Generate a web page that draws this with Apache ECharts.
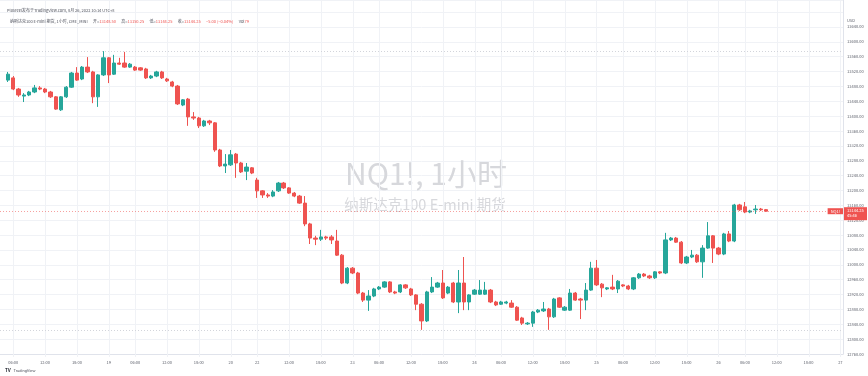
<!DOCTYPE html>
<html><head><meta charset="utf-8">
<script src="https://cdn.jsdelivr.net/npm/echarts@6/dist/echarts.min.js"></script>
<style>html,body{margin:0;padding:0;background:#fff}#c{width:868px;height:376px}</style>
</head><body><div id="c"></div>
<script>
// ---- data (NQ1! 1h, 18 Aug 04:00 -> 26 Aug 10:00, UTC+8) ----
const openP = [13497,13503,13473,13454,13457,13465,13476,13473,13465,13452,
 13417,13452,13478,13516,13500,13532,13519,13452,13511,13557,
 13513,13543,13543,13532,13532,13530,13527,13503,13508,13519,
 13500,13492,13481,13430,13446,13398,13395,13374,13387,13382,
 13309,13266,13269,13298,13274,13252,13261,13228,13199,13188,
 13185,13199,13220,13207,13193,13185,13166,13110,13072,13069,
 13075,13075,13064,13026,12951,12991,12978,12924,12905,12916,
 12935,12940,12954,12927,12927,12946,12935,12919,12894,12849,
 12927,12940,12951,12924,12951,12900,12951,12900,12921,12921,
 12921,12932,12900,12894,12897,12897,12886,12857,12841,12843,
 12873,12876,12881,12860,12911,12878,12878,12924,12908,12905,
 12932,12991,12948,12935,12940,12935,12946,12943,12935,12965,
 12975,12970,12965,12981,12978,13067,13072,13061,13005,13021,
 13026,13008,13045,13078,13045,13029,13083,13064,13161,13156,
 13142,13148,13150,13148.5];
const closeP = [13513,13473,13457,13457,13465,13476,13473,13465,13452,13419,
 13452,13478,13516,13497,13532,13519,13452,13511,13557,13511,
 13543,13540,13532,13540,13524,13524,13503,13508,13519,13503,
 13495,13481,13433,13444,13398,13395,13374,13387,13382,13309,
 13266,13271,13296,13274,13250,13263,13247,13199,13188,13185,
 13196,13220,13207,13193,13185,13166,13110,13072,13069,13075,
 13072,13067,13026,12951,12991,12978,12924,12905,12916,12935,
 12940,12954,12927,12924,12946,12938,12919,12894,12849,12927,
 12940,12951,12911,12940,12900,12951,12900,12919,12932,12932,
 12932,12900,12892,12900,12900,12886,12851,12843,12843,12873,
 12878,12881,12860,12908,12886,12886,12924,12905,12905,12932,
 12991,12946,12938,12938,12935,12956,12943,12935,12965,12975,
 12970,12965,12981,12978,13067,13072,13061,13005,13021,13026,
 13008,13045,13078,13045,13029,13083,13064,13161,13148,13142,
 13145,13150,13148,13144.25];
const highP = [13519,13508,13476,13462,13468,13484,13481,13476,13468,13454,
 13454,13481,13519,13532,13535,13559,13522,13513,13575,13559,
 13565,13557,13573,13543,13535,13532,13530,13511,13522,13522,
 13503,13495,13484,13446,13449,13411,13398,13390,13390,13384,
 13312,13298,13309,13301,13277,13274,13263,13234,13201,13193,
 13201,13223,13223,13209,13196,13188,13185,13113,13078,13094,
 13078,13080,13094,13029,12994,12994,12981,12927,12932,12938,
 12943,12956,12956,12930,12948,12948,12938,12921,12897,12930,
 12967,12954,12986,12943,12954,12986,13021,12921,12935,12959,
 12954,12935,12903,12903,12903,12905,12889,12860,12846,12876,
 12881,12900,12884,12911,12913,12889,12935,12927,12911,12951,
 13008,13013,12951,12940,12973,12959,12948,12946,12967,12978,
 12978,12973,12983,12983,13086,13075,13075,13064,13024,13040,
 13029,13053,13115,13080,13048,13086,13091,13164,13164,13169,
 13148,13161,13153,13150.25];
const lowP = [13492,13470,13452,13438,13454,13462,13470,13462,13449,13417,
 13414,13449,13476,13495,13497,13516,13435,13425,13508,13489,
 13511,13538,13530,13530,13522,13522,13500,13500,13505,13500,
 13492,13478,13430,13427,13374,13390,13368,13371,13376,13304,
 13263,13247,13266,13234,13247,13228,13244,13180,13180,13180,
 13182,13196,13204,13191,13182,13164,13104,13056,13053,13064,
 13067,13056,13024,12948,12948,12975,12921,12900,12876,12913,
 12932,12938,12924,12921,12924,12935,12916,12878,12825,12846,
 12924,12938,12908,12921,12897,12870,12878,12878,12919,12919,
 12919,12897,12889,12892,12894,12884,12849,12838,12838,12833,
 12870,12873,12825,12857,12884,12876,12876,12903,12854,12878,
 12930,12943,12913,12932,12932,12924,12940,12932,12932,12962,
 12967,12962,12962,12975,12975,13064,13059,13002,13002,13018,
 13005,12965,13043,13005,13026,13026,13061,13061,13145,13139,
 13139,13137,13145,13144.25];

// session starts (day of Aug 2022, each session 06:00 -> 04:00 next trading day, 23 bars)
const sessionStartDays = [18, 19, 22, 23, 24, 25];
const sessionEndDays   = [19, 20, 23, 24, 25, 26];
const headerLine1 = 'Plusreel发布于TradingView.com, 8月 26, 2022 10:14 UTC+8';
const symbolTitle = '纳斯达克100 E-mini 期货, 1小时, CME_MINI';
const watermark1 = 'NQ1!, 1小时';
const watermark2 = '纳斯达克100 E-mini 期货';
const lastPriceLabel = '13144.25';
const countdownLabel = '45:46';

// ---- categories (hour slots) ----
const slots = [{d:18,h:3},{d:18,h:4}];
sessionStartDays.forEach((s, k) => {
  for (let j = 0; j < 23; j++) {
    let h = 6 + j, d = s;
    if (h >= 24) { h -= 24; d = sessionEndDays[k]; }
    slots.push({d, h});
  }
});
for (let h = 6; h <= 24; h++) slots.push(h === 24 ? {d:27,h:0} : {d:26,h});
const pad = n => (n < 10 ? '0' : '') + n;
const catNames = slots.map(s => '08-' + s.d + ' ' + pad(s.h) + ':00');
const tickLabels = slots.map((s, i) => {
  if (i === 0) return '';
  const prev = slots[i - 1];
  if (s.h === 0) return String(s.d);
  if (s.h === 6 && prev.d !== s.d) return String(s.d);
  if (s.h === 6 || s.h === 12 || s.h === 18) return pad(s.h) + ':00';
  return '';
});
const labelIdx = tickLabels.map((t, i) => (t ? i : -1)).filter(i => i >= 0);

const N = catNames.length;
const ohlc = ['-'];
openP.forEach((o, i) => ohlc.push([o, closeP[i], lowP[i], highP[i]]));
while (ohlc.length < N) ohlc.push('-');

const hiVal = Math.max(...highP);
const loVal = Math.min(...lowP);
const lastClose = closeP[closeP.length - 1];
const lastO = openP[openP.length - 1], lastH = highP[highP.length - 1], lastL = lowP[lowP.length - 1];
const UP = '#26a69a', DN = '#ef5350';
const FONT = '"Noto Sans CJK SC", "Noto Sans", sans-serif';

const chart = echarts.init(document.getElementById('c'), null, {renderer: 'canvas'});
chart.setOption({
  animation: false,
  backgroundColor: '#ffffff',
  textStyle: {fontFamily: FONT},
  grid: {left: 0, right: 25, top: 0, bottom: 22},
  xAxis: {
    type: 'category', data: catNames, boundaryGap: true,
    axisLine: {show: true, lineStyle: {color: '#e0e3eb'}},
    axisTick: {show: false}, splitLine: {show: false},
    axisLabel: {interval: i => tickLabels[i] !== '', formatter: (v, i) => tickLabels[i],
      fontSize: 4, color: '#5d606b', margin: 6, fontFamily: FONT}
  },
  yAxis: {
    type: 'value', position: 'right', min: 12760, max: 13712.6, interval: 40,
    axisLine: {show: true, lineStyle: {color: '#e0e3eb'}},
    axisTick: {show: false},
    splitLine: {lineStyle: {color: '#f0f2f6'}},
    axisLabel: {fontSize: 4, color: '#5d606b', margin: 4, fontFamily: FONT,
      formatter: v => (v > 13660 ? '' : v.toFixed(2))}
  },
  series: [
    {
      type: 'custom', z: 1, silent: true,
      data: labelIdx.map(i => [i]),
      encode: {x: 0},
      renderItem: (params, api) => {
        const x = Math.round(api.coord([api.value(0), 13000])[0]) + 0.5;
        const cs = params.coordSys;
        return {type: 'line', shape: {x1: x, y1: cs.y, x2: x, y2: cs.y + cs.height + 3},
          style: {stroke: '#f0f2f6', lineWidth: 1}};
      }
    },
    {
      type: 'candlestick', z: 3, data: ohlc, barWidth: '72%',
      itemStyle: {color: UP, color0: DN, borderColor: UP, borderColor0: DN, borderWidth: 1},
      markLine: {
        silent: true, symbol: ['none', 'none'], animation: false,
        data: [
          {yAxis: hiVal, lineStyle: {color: '#d3d5db', type: [1, 2], width: 1}, label: {show: false}},
          {yAxis: loVal, lineStyle: {color: '#d3d5db', type: [1, 2], width: 1}, label: {show: false}},
          {yAxis: lastClose, lineStyle: {color: DN, type: [1, 2], width: 1, opacity: 0.55}, label: {show: false}}
        ]
      }
    }
  ]
});

// text and price labels, positioned through the axis scale
const py = chart.convertToPixel({yAxisIndex: 0}, lastClose);
chart.setOption({
  graphic: [
    {id: 'wm1', type: 'text', x: 426, y: 174, z: 0, silent: true,
     style: {text: watermark1, fontSize: 30, fill: '#d7d8dc', align: 'center', verticalAlign: 'middle', fontFamily: FONT}},
    {id: 'wm2', type: 'text', x: 425, y: 204, z: 0, silent: true,
     style: {text: watermark2, fontSize: 14.5, fill: '#d7d8dc', align: 'center', verticalAlign: 'middle', fontFamily: FONT}},
    {id: 'h1', type: 'text', x: 7, y: 10, z: 10, silent: true,
     style: {text: headerLine1, fontSize: 4, fill: '#50535e', verticalAlign: 'middle', fontFamily: FONT}},
    {id: 'h2', type: 'text', x: 10, y: 21, z: 10, silent: true,
     style: {
       text: '{a|' + symbolTitle + '}  {a|开=}{r|' + lastO.toFixed(2) + '}  {a|高=}{r|' + lastH.toFixed(2) +
             '}  {a|低=}{r|' + lastL.toFixed(2) + '}  {a|收=}{r|' + lastClose.toFixed(2) + '}  {r|−5.00 (−0.04%)}  {a|Vol}{r|79}',
       verticalAlign: 'middle', fontFamily: FONT,
       rich: {a: {fontSize: 4, fill: '#50535e', fontFamily: FONT}, r: {fontSize: 4, fill: DN, fontFamily: FONT}}
     }},
    {id: 'usd', type: 'text', x: 847, y: 20, z: 10, silent: true,
     style: {text: 'USD', fontSize: 4, fill: '#5d606b', verticalAlign: 'middle', fontFamily: FONT}},
    {id: 'tv', type: 'text', x: 5, y: 371, z: 10, silent: true,
     style: {text: '{l|TV} {t|TradingView}', verticalAlign: 'middle', fontFamily: FONT,
       rich: {l: {fontSize: 4.5, fontWeight: 'bold', fill: '#131722'}, t: {fontSize: 4, fill: '#50535e'}}}},
    {id: 'sym', type: 'text', x: 843, y: py, z: 20, silent: true,
     style: {text: 'NQ1!', fontSize: 4, fill: '#fff', backgroundColor: DN, padding: [1, 3],
       align: 'right', verticalAlign: 'middle', fontFamily: FONT}},
    {id: 'px', type: 'text', x: 844, y: py - 4, z: 20, silent: true,
     style: {text: lastPriceLabel + '\n' + countdownLabel, fontSize: 4, lineHeight: 5, fill: '#fff',
       backgroundColor: DN, padding: [1, 3, 2, 3], width: 17, align: 'left', verticalAlign: 'top', fontFamily: FONT}}
  ]
});
</script>
</body></html>
